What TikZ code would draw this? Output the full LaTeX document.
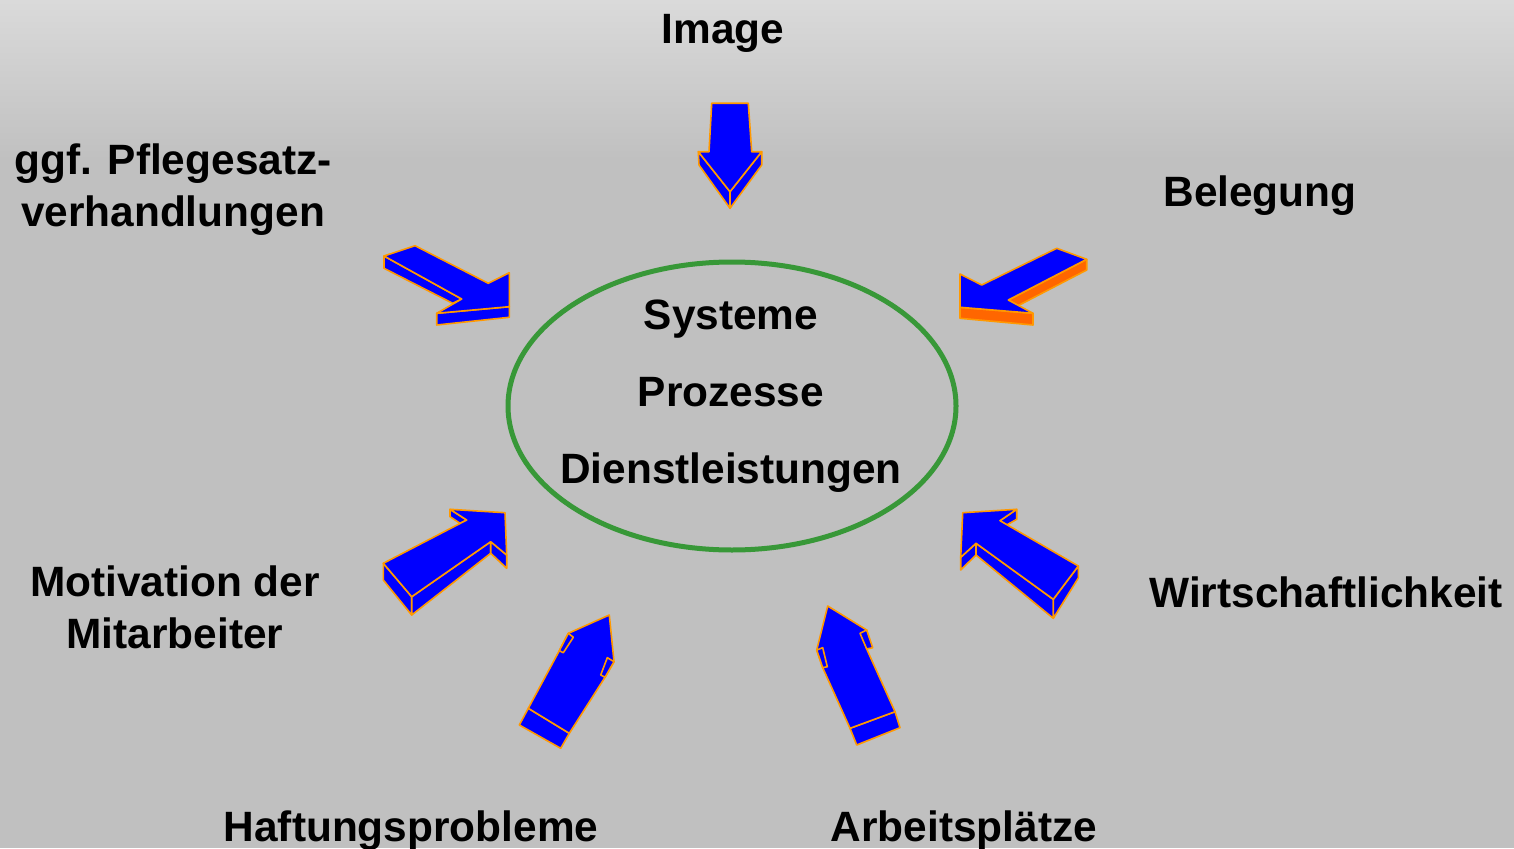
\documentclass[tikz,border=0pt]{standalone}
\usepackage{fontspec}
\setmainfont{Liberation Sans}
\definecolor{arrowblue}{RGB}{0,0,255}
\definecolor{arroworange}{RGB}{255,153,0}
\definecolor{sideorange}{RGB}{255,102,0}
\definecolor{ringgreen}{RGB}{56,152,56}
\definecolor{bgtop}{RGB}{218,218,218}
\definecolor{bgmain}{RGB}{192,192,192}
\begin{document}
\begin{tikzpicture}[x=1pt,y=-1pt,
  face/.style={fill=arrowblue, draw=arroworange, line width=1.6pt, line join=round},
  oface/.style={fill=sideorange, draw=arroworange, line width=1.6pt, line join=round},
  lbl/.style={font=\fontsize{42.4}{52}\selectfont\bfseries, inner sep=0pt, anchor=base}]
\useasboundingbox (0,0) rectangle (1514,848);
% background
\fill[bgmain] (0,0) rectangle (1514,848);
\shade[top color=bgtop, bottom color=bgmain] (0,0) rectangle (1514,160);

% ring
\draw[ringgreen, line width=5pt] (732,406) ellipse [x radius=224, y radius=144];
\node[lbl] (sys) at (731,329) {Systeme};
\node[lbl] (proz) at (731,406) {Prozesse};
\node[lbl] (dienst) at (731,483) {Dienstleistungen};

% labels
\node[lbl] (image) at (723,44) {Image};
\node[lbl] (ggf1) at (173,174) {ggf. Pflegesatz-};
\node[lbl] (ggf2) at (173,226) {verhandlungen};
\node[lbl] (beleg) at (1260,206) {Belegung};
\node[lbl] (motiv1) at (175,596) {Motivation der};
\node[lbl] (motiv2) at (175,648) {Mitarbeiter};
\node[lbl] (wirt) at (1326,607) {Wirtschaftlichkeit};
\node[lbl] (haft) at (411,841) {Haftungsprobleme};
\node[lbl] (arb) at (964,841) {Arbeitsplätze};

% arrow: Image (top)
\filldraw[face] (698.3,151.7) -- (730,191.7) -- (730,208.3) -- (699,165) -- cycle;
\filldraw[face] (761.7,151.7) -- (761.7,165) -- (730,208.3) -- (730,191.7) -- cycle;
\filldraw[face] (711.7,103.3) -- (748.3,103.3) -- (751.7,151.7) -- (761.7,151.7) -- (730,191.7) -- (698.3,151.7) -- (709,151.7) -- cycle;

% arrow: ggf. Pflegesatzverhandlungen
\filldraw[face] (384,256) -- (461.7,299) -- (452.7,303.3) -- (384,268.3) -- cycle;
\filldraw[face] (436.7,313.3) -- (509.3,306.7) -- (509.3,317.3) -- (436.7,325) -- cycle;
\filldraw[face] (384,256) -- (415,245.7) -- (488.3,283.3) -- (509.3,272.7) -- (509.3,306.7) -- (436.7,313.3) -- (461.7,299) -- cycle;

% arrow: Belegung
\filldraw[oface] (1008.3,300) -- (1086.7,259.3) -- (1086.7,270) -- (1018,305.7) -- cycle;
\filldraw[oface] (960,307.3) -- (1033,313.3) -- (1033,325) -- (960,318.3) -- cycle;
\filldraw[face] (1056.7,248.3) -- (1086.7,259.3) -- (1008.3,300) -- (1033,313.3) -- (960,307.3) -- (960,274) -- (981.7,285) -- cycle;

% arrow: Motivation der Mitarbeiter
\filldraw[face] (383.3,563.3) -- (411.7,596.7) -- (411.7,615) -- (383.3,580) -- cycle;
\filldraw[face] (411.7,596.7) -- (490.7,541.7) -- (490.7,553.3) -- (411.7,615) -- cycle;
\filldraw[face] (490.7,541.7) -- (506.7,555) -- (506.7,568.3) -- (490.7,553.3) -- cycle;
\filldraw[face] (450,509.3) -- (466.7,520) -- (460,523.3) -- (450,516.7) -- cycle;
\filldraw[face] (383.3,563.3) -- (466.7,520) -- (450,509.3) -- (505,512.7) -- (506.7,555) -- (490.7,541.7) -- (411.7,596.7) -- cycle;

% arrow: Wirtschaftlichkeit
\filldraw[face] (960.7,557.3) -- (976,543.3) -- (976,555) -- (960.7,570) -- cycle;
\filldraw[face] (976,543.3) -- (1053.3,599.3) -- (1053.3,618.3) -- (976,555) -- cycle;
\filldraw[face] (1053.3,599.3) -- (1078.3,566) -- (1078.3,578) -- (1053.3,618.3) -- cycle;
\filldraw[face] (1016.7,509.3) -- (1016.7,519.3) -- (1006.7,525) -- (1000,520.7) -- cycle;
\filldraw[face] (962.7,512.7) -- (1016.7,509.3) -- (1000,520.7) -- (1078.3,566) -- (1053.3,599.3) -- (976,543.3) -- (960.7,557.3) -- cycle;

% arrow: Haftungsprobleme
\filldraw[face] (528.3,708.3) -- (569.3,733.3) -- (560.7,748.3) -- (519.3,725) -- cycle;
\filldraw[face] (609.3,615) -- (568.3,633.3) -- (559.3,650.7) -- (528.3,708.3) -- (569.3,733.3) -- (605,677.3) -- (614,661.7) -- cycle;
\filldraw[face] (568.3,633.3) -- (573.3,637.3) -- (563.3,652.7) -- (559.3,650.7) -- cycle;
\filldraw[face] (600.7,675) -- (607.3,657.7) -- (614,661.7) -- (605,677.3) -- cycle;

% arrow: Arbeitsplaetze
\filldraw[face] (850,728.3) -- (895,711.7) -- (900,727.7) -- (856.7,745) -- cycle;
\filldraw[face] (827.7,606) -- (866.7,630) -- (866.7,649) -- (895,711.7) -- (850,728.3) -- (822.7,667.7) -- (816.7,650) -- cycle;
\filldraw[face] (860,633.3) -- (866.7,630) -- (872.7,647.7) -- (866.7,649) -- cycle;
\filldraw[face] (816.7,650) -- (822.7,647.7) -- (827.3,666.7) -- (822.7,667.7) -- cycle;
\end{tikzpicture}
\end{document}
